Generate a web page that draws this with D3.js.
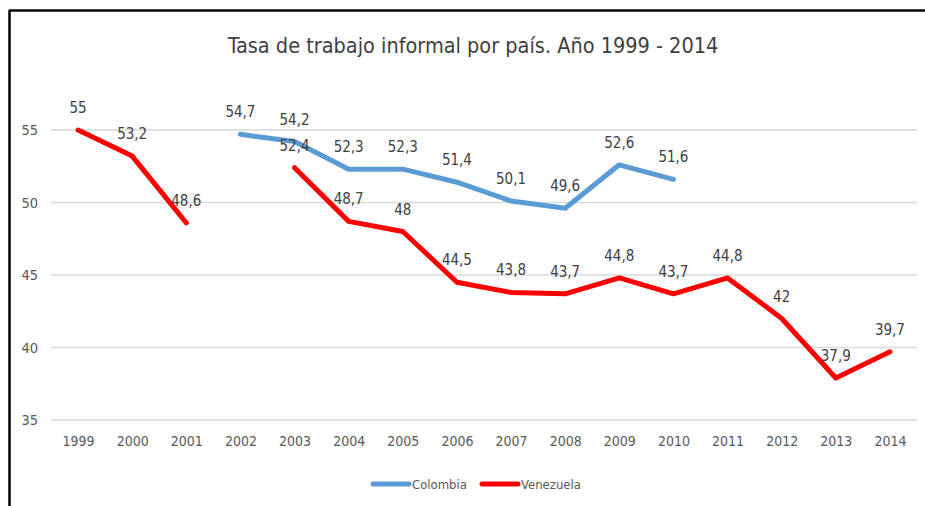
<!DOCTYPE html>
<html>
<head>
<meta charset="utf-8">
<script src="https://cdn.jsdelivr.net/npm/d3@7"></script>
<style>
  html, body { margin: 0; padding: 0; background: #fff; }
  svg { display: block; }
  text { font-family: "Liberation Sans Narrow", "DejaVu Sans Condensed", "Open Sans", sans-serif; }
</style>
</head>
<body>
<svg id="chart" width="925" height="506"></svg>
<script>
const years = ["1999","2000","2001","2002","2003","2004","2005","2006","2007","2008","2009","2010","2011","2012","2013","2014"];
const colombia = [null, null, null, 54.7, 54.2, 52.3, 52.3, 51.4, 50.1, 49.6, 52.6, 51.6, null, null, null, null];
const venezuela = [55, 53.2, 48.6, null, 52.4, 48.7, 48, 44.5, 43.8, 43.7, 44.8, 43.7, 44.8, 42, 37.9, 39.7];
const yTicks = [35, 40, 45, 50, 55];
const seriesNames = ["Colombia", "Venezuela"];
const seriesColors = ["#5B9BD5", "#FF0000"];

const svg = d3.select("#chart");
const W = 925, H = 506;
const plot = { left: 51, right: 917, top: 130, bottom: 420 };
const fontStack = '"Liberation Sans Narrow", "DejaVu Sans Condensed", sans-serif';

// frame edges (top and left)
svg.append("line").attr("x1", 9).attr("x2", W).attr("y1", 10.5).attr("y2", 10.5)
  .attr("stroke", "#000").attr("stroke-width", 2.5);
svg.append("line").attr("x1", 9.5).attr("x2", 9.5).attr("y1", 10).attr("y2", H)
  .attr("stroke", "#000").attr("stroke-width", 2.5);

// title
svg.append("text").attr("x", 473).attr("y", 53).attr("text-anchor", "middle")
  .attr("font-size", 21.5).attr("fill", "#404040")
  .text("Tasa de trabajo informal por país. Año 1999 - 2014");

const x = d3.scalePoint().domain(years).range([plot.left, plot.right]).padding(0.5);
const y = d3.scaleLinear().domain([35, 55]).range([plot.bottom, plot.top]);

// gridlines
svg.append("g").selectAll("line").data(yTicks).join("line")
  .attr("x1", plot.left).attr("x2", plot.right)
  .attr("y1", d => y(d)).attr("y2", d => y(d))
  .attr("stroke", "#d9d9d9").attr("stroke-width", 1.5);

// y axis labels
const yAxis = d3.axisLeft(y).tickValues(yTicks).tickSize(0).tickPadding(0).tickFormat(d3.format("d"));
const gy = svg.append("g").attr("transform", `translate(38,0)`).call(yAxis);
gy.select(".domain").remove();
gy.selectAll("text").attr("font-size", 14.5).attr("fill", "#595959").style("font-family", fontStack);

// x axis labels
const xAxis = d3.axisBottom(x).tickSize(0).tickPadding(0);
const gx = svg.append("g").attr("transform", `translate(0,${plot.bottom + 16})`).call(xAxis);
gx.select(".domain").remove();
gx.selectAll("text").attr("font-size", 14).attr("fill", "#595959").style("font-family", fontStack);

const fmt = v => String(v).replace(".", ",");
const allSeries = [colombia, venezuela];

allSeries.forEach((vals, i) => {
  const pts = years.map((yr, j) => ({ yr, v: vals[j] }));
  const line = d3.line().defined(d => d.v !== null).x(d => x(d.yr)).y(d => y(d.v));
  svg.append("path").datum(pts).attr("d", line)
    .attr("fill", "none").attr("stroke", seriesColors[i])
    .attr("stroke-width", 5).attr("stroke-linejoin", "round").attr("stroke-linecap", "round");
});

allSeries.forEach((vals, i) => {
  const pts = years.map((yr, j) => ({ yr, v: vals[j] })).filter(d => d.v !== null);
  svg.append("g").selectAll("text").data(pts).join("text")
    .attr("x", d => x(d.yr)).attr("y", d => y(d.v) - 17)
    .attr("text-anchor", "middle").attr("font-size", 15).attr("fill", "#404040")
    .text(d => fmt(d.v));
});

// legend
const legend = svg.append("g");
const lx = [373, 482];
seriesNames.forEach((name, i) => {
  legend.append("line").attr("x1", lx[i]).attr("x2", lx[i] + 36).attr("y1", 484).attr("y2", 484)
    .attr("stroke", seriesColors[i]).attr("stroke-width", 5).attr("stroke-linecap", "round");
  legend.append("text").attr("x", lx[i] + 39).attr("y", 489).attr("font-size", 13)
    .attr("fill", "#595959").text(name);
});
</script>
</body>
</html>
